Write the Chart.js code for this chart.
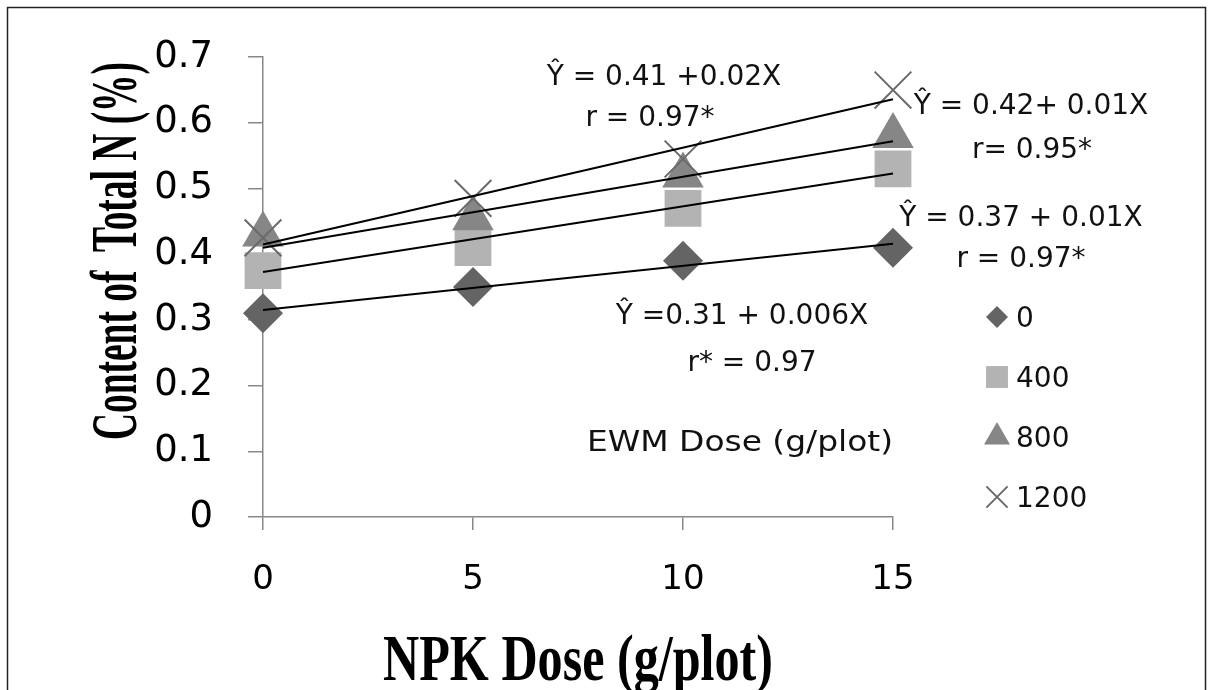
<!DOCTYPE html>
<html>
<head>
<meta charset="utf-8">
<script src="https://cdn.jsdelivr.net/npm/chart.js@4.4.1/dist/chart.umd.min.js"></script>
<style>
  html, body { margin: 0; padding: 0; background: #fff; }
  canvas { display: block; }
</style>
</head>
<body>
<canvas id="nChart" width="1213" height="690"></canvas>
<script>
// NPK dose on x, total N content (%) per EWM dose
const npkDose = [0, 5, 10, 15];
const ewm0 = [0.31, 0.35, 0.39, 0.41];
const ewm400 = [0.375, 0.41, 0.47, 0.53];
const ewm800 = [0.43, 0.455, 0.52, 0.58];
const ewm1200 = [0.425, 0.485, 0.545, 0.65];

// trendline ends (x = 0 and x = 15)
const trendX = [0, 15];
const trend0 = [0.315, 0.416];
const trend400 = [0.373, 0.523];
const trend800 = [0.41, 0.572];
const trend1200 = [0.415, 0.636];

const seriesNames = ["0", "400", "800", "1200"];
const xTickLabels = ["0", "5", "10", "15"];
const yTickLabels = ["0", "0.1", "0.2", "0.3", "0.4", "0.5", "0.6", "0.7"];
const eqLabels = ["Ŷ = 0.41 +0.02X", "r = 0.97*", "Ŷ = 0.42+ 0.01X", "r= 0.95*",
                  "Ŷ = 0.37 + 0.01X", "r = 0.97*", "Ŷ =0.31 + 0.006X", "r* = 0.97"];
const legendTitle = "EWM Dose (g/plot)";
const xTitle = "NPK Dose (g/plot)";
const yTitle = "Content of  Total N (%)";

const pts = arr => arr.map((v, i) => ({ x: npkDose[i], y: v }));
const line = arr => arr.map((v, i) => ({ x: trendX[i], y: v }));

const markerSets = [
    { label: seriesNames[0], data: pts(ewm0), pointStyle: "rectRot", pointRadius: 20,
      backgroundColor: "#646464", borderColor: "#646464", borderWidth: 0, order: 4 },
    { label: seriesNames[1], data: pts(ewm400), pointStyle: "rect", pointRadius: 26,
      backgroundColor: "#b3b3b3", borderColor: "#b3b3b3", borderWidth: 0, order: 3 },
    { label: seriesNames[2], data: pts(ewm800), pointStyle: "triangle", pointRadius: 24,
      backgroundColor: "#868686", borderColor: "#868686", borderWidth: 0, order: 2 },
    { label: seriesNames[3], data: pts(ewm1200), pointStyle: "crossRot", pointRadius: 26,
      backgroundColor: "#6a6a6a", borderColor: "#6a6a6a", borderWidth: 2, order: 1 }
];
markerSets.forEach(d => { d.showLine = false; d.clip = false; d.pointHoverRadius = d.pointRadius; });

const trendSets = [trend0, trend400, trend800, trend1200].map(t => ({
    label: "trend", data: line(t), showLine: true, pointRadius: 0, clip: false,
    borderColor: "#000", borderWidth: 2, order: 0
}));

const sansFont = "'DejaVu Sans', sans-serif";

// draw text squeezed/stretched to a given width
function fitText(c, text, x, y, width, angle) {
    const w = c.measureText(text).width;
    c.save();
    c.translate(x, y);
    if (angle) c.rotate(angle);
    c.scale(width / w, 1);
    c.fillText(text, 0, 0);
    c.restore();
}

// titles, equations, legend and frame
const extras = {
    id: "extras",
    beforeDraw(chart) {
        const c = chart.ctx;
        c.save();
        c.strokeStyle = "#222";
        c.lineWidth = 1.5;
        c.beginPath();
        c.moveTo(7.5, 700); c.lineTo(7.5, 7.5); c.lineTo(1205.5, 7.5); c.lineTo(1205.5, 700);
        c.stroke();
        c.restore();
    },
    afterDraw(chart) {
        const c = chart.ctx;
        c.save();
        c.fillStyle = "#111";
        c.font = "28px " + sansFont;
        c.textAlign = "center";
        c.textBaseline = "alphabetic";
        const eqPos = [[664, 75], [650, 116], [1031, 104], [1032, 148],
                       [1021, 216], [1021, 257], [742, 314], [752, 361]];
        eqLabels.forEach((t, i) => c.fillText(t, eqPos[i][0], eqPos[i][1] + 10));
        fitText(c, legendTitle, 740, 451, 306);

        // legend
        const legY = [317, 377, 437, 497];
        const legR = [11, 15.5, 15, 15];
        markerSets.forEach((d, i) => {
            c.fillStyle = d.backgroundColor;
            c.strokeStyle = d.borderColor;
            c.lineWidth = d.borderWidth;
            Chart.helpers.drawPoint(c, { pointStyle: d.pointStyle, radius: legR[i],
                rotation: 0, borderWidth: d.borderWidth }, 997, legY[i]);
            c.fillStyle = "#111";
            c.textAlign = "left";
            c.fillText(d.label, 1016, legY[i] + 10);
        });

        // axis titles, condensed serif
        c.fillStyle = "#000";
        c.font = "bold 66px 'Liberation Serif', serif";
        c.textAlign = "center";
        fitText(c, xTitle, 578, 680, 390);
        fitText(c, yTitle, 136, 251, 378, -Math.PI / 2);
        c.restore();
    }
};

const ctx = document.getElementById("nChart").getContext("2d");
const chart = new Chart(ctx, {
    type: "scatter",
    data: { datasets: [...markerSets, ...trendSets] },
    options: {
        responsive: false,
        animation: false,
        layout: { padding: { top: 53, right: 320, left: 0, bottom: 0 } },
        plugins: { legend: { display: false }, tooltip: { enabled: false } },
        scales: {
            x: {
                type: "linear", min: 0, max: 15,
                afterFit: s => { s.height = 173; },
                afterBuildTicks: s => { s.ticks = npkDose.map(v => ({ value: v })); },
                ticks: { callback: (v, i) => xTickLabels[i], color: "#000",
                         font: { family: sansFont, size: 34 }, padding: 30, maxRotation: 0 },
                grid: { drawOnChartArea: false, tickLength: 13, color: "#888", lineWidth: 1.5 },
                border: { color: "#888", width: 1.5 }
            },
            y: {
                type: "linear", min: 0, max: 0.7,
                afterFit: s => { s.width = 263; },
                afterBuildTicks: s => { s.ticks = yTickLabels.map((t, i) => ({ value: i / 10 })); },
                ticks: { callback: (v, i) => yTickLabels[i], color: "#000",
                         font: { family: sansFont, size: 37 }, padding: 35 },
                grid: { drawOnChartArea: false, tickLength: 15, color: "#888", lineWidth: 1.5 },
                border: { color: "#888", width: 1.5 }
            }
        }
    },
    plugins: [extras]
});
</script>
</body>
</html>
